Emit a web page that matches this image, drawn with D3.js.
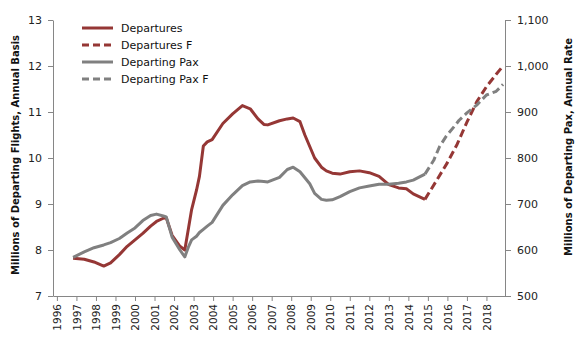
<!DOCTYPE html>
<html>
<head>
<meta charset="utf-8">
<script src="https://cdn.jsdelivr.net/npm/d3@7"></script>
<style>
  html, body { margin: 0; padding: 0; background: #fff; }
  svg { display: block; font-family: "DejaVu Sans", Verdana, sans-serif; }
</style>
</head>
<body>
<div id="chart"></div>
<script>
// --- data ---
// history, decimal years
const histYears = [1996.83, 1997.4, 1997.9, 1998.4, 1998.75, 1999.2, 1999.6, 2000.0, 2000.4, 2000.8,
  2001.1, 2001.45, 2001.6, 2001.9, 2002.3, 2002.55, 2002.75, 2002.9, 2003.15, 2003.3,
  2003.5, 2003.7, 2003.95, 2004.5, 2005.0, 2005.5, 2005.9, 2006.3, 2006.6, 2006.8,
  2007.4, 2007.8, 2008.1, 2008.45, 2008.7, 2008.95, 2009.2, 2009.55, 2009.8, 2010.1,
  2010.5, 2011.0, 2011.5, 2012.0, 2012.5, 2013.0, 2013.5, 2013.9, 2014.25, 2014.85];
// millions of departing flights
const departures = [7.82, 7.80, 7.74, 7.65, 7.72, 7.90, 8.08, 8.22, 8.36, 8.52,
  8.62, 8.69, 8.70, 8.32, 8.08, 8.00, 8.50, 8.88, 9.30, 9.60,
  10.26, 10.35, 10.40, 10.75, 10.96, 11.14, 11.07, 10.85, 10.73, 10.72,
  10.81, 10.85, 10.87, 10.79, 10.50, 10.25, 10.00, 9.80, 9.72, 9.67,
  9.65, 9.70, 9.72, 9.68, 9.60, 9.42, 9.35, 9.33, 9.22, 9.10];
// millions of departing passengers
const departingPax = [584, 596, 605, 611, 616, 625, 637, 648, 664, 675,
  678, 674, 672, 628, 600, 585, 608, 622, 630, 638,
  645, 652, 660, 697, 720, 740, 748, 750, 749, 748,
  758, 775, 780, 770, 757, 744, 723, 710, 708, 709,
  716, 727, 735, 739, 743, 743, 745, 748, 752, 765];

// forecasts
const depFYears = [2014.85, 2015.5, 2016.0, 2016.5, 2017.0, 2017.5, 2018.0, 2018.5, 2018.85];
const departuresF = [9.10, 9.55, 9.90, 10.30, 10.78, 11.22, 11.55, 11.82, 12.00];
const paxFYears = [2014.85, 2015.3, 2015.6, 2015.95, 2016.3, 2016.6, 2017.0, 2017.5, 2018.0, 2018.5, 2018.85];
const departingPaxF = [765, 795, 825, 848, 866, 882, 898, 915, 937, 945, 960];

const yearTicks = d3.range(1996, 2019);
const leftTicks = [7, 8, 9, 10, 11, 12, 13];
const rightTicks = [500, 600, 700, 800, 900, 1000, 1100];

const seriesNames = ['Departures', 'Departures F', 'Departing Pax', 'Departing Pax F'];
const leftTitle = 'Millions of Departing Flights, Annual Basis';
const rightTitle = 'Millions of Departing Pax, Annual Rate';

// --- layout ---
const width = 578, height = 351;
const plot = { left: 53, right: 505, top: 20, bottom: 296 };
const red = '#953735', grey = '#808080', axisColor = '#868686';

const svg = d3.select('#chart').append('svg')
  .attr('width', width).attr('height', height);

const x = d3.scaleLinear().domain([1995.8, 2018.95]).range([plot.left, plot.right]);
const yL = d3.scaleLinear().domain([7, 13]).range([plot.bottom, plot.top]);
const yR = d3.scaleLinear().domain([500, 1100]).range([plot.bottom, plot.top]);

// axes
const xAxis = svg.append('g')
  .attr('transform', `translate(0,${plot.bottom})`)
  .call(d3.axisBottom(x).tickValues(yearTicks).tickFormat(d3.format('d')).tickSize(5).tickSizeOuter(0));
xAxis.selectAll('text')
  .attr('transform', 'rotate(-90)')
  .attr('text-anchor', 'end')
  .attr('x', -8).attr('y', 0).attr('dy', '0.35em')
  .style('font-size', '10.5px');

const leftAxis = svg.append('g')
  .attr('transform', `translate(${plot.left},0)`)
  .call(d3.axisLeft(yL).tickValues(leftTicks).tickFormat(d3.format('d')).tickSize(5).tickSizeOuter(0));
leftAxis.selectAll('text').attr('x', -11).style('font-size', '11px');

const rightAxis = svg.append('g')
  .attr('transform', `translate(${plot.right},0)`)
  .call(d3.axisRight(yR).tickValues(rightTicks).tickFormat(d3.format(',')).tickSize(6).tickSizeOuter(0));
rightAxis.selectAll('text').attr('x', 12).style('font-size', '11px');

svg.selectAll('.domain, .tick line').attr('stroke', axisColor);
svg.selectAll('.tick text').attr('fill', '#222').style('font-family', '"DejaVu Sans", Verdana, sans-serif');

// axis titles
svg.append('text')
  .attr('transform', `translate(15,155) rotate(-90)`)
  .attr('text-anchor', 'middle').attr('dy', '0.35em')
  .style('font-size', '10px').style('font-weight', 'bold').attr('fill', '#111')
  .text(leftTitle);
svg.append('text')
  .attr('transform', `translate(568,147) rotate(-90)`)
  .attr('text-anchor', 'middle').attr('dy', '0.35em')
  .style('font-size', '10px').style('font-weight', 'bold').attr('fill', '#111')
  .text(rightTitle);

// lines
const lineL = (xs) => d3.line().x((d, i) => x(xs[i])).y(d => yL(d));
const lineR = (xs) => d3.line().x((d, i) => x(xs[i])).y(d => yR(d));

const series = [
  { values: departures, gen: lineL(histYears), color: red, dash: null },
  { values: departuresF, gen: lineL(depFYears), color: red, dash: '8 4' },
  { values: departingPax, gen: lineR(histYears), color: grey, dash: null },
  { values: departingPaxF, gen: lineR(paxFYears), color: grey, dash: '8 4' }
];

svg.append('g').selectAll('path')
  .data(series)
  .join('path')
  .attr('d', d => d.gen(d.values))
  .attr('fill', 'none')
  .attr('stroke', d => d.color)
  .attr('stroke-width', 3)
  .attr('stroke-linejoin', 'round')
  .attr('stroke-dasharray', d => d.dash);

// legend
const legend = svg.append('g').selectAll('g')
  .data(series)
  .join('g')
  .attr('transform', (d, i) => `translate(82,${28 + i * 17})`);
legend.append('line')
  .attr('x1', 0).attr('x2', 31)
  .attr('stroke', d => d.color)
  .attr('stroke-width', 3)
  .attr('stroke-dasharray', d => d.dash ? '7 4' : null);
legend.append('text')
  .attr('x', 39).attr('dy', '0.35em')
  .style('font-size', '11px').attr('fill', '#111')
  .text((d, i) => seriesNames[i]);
</script>
</body>
</html>
